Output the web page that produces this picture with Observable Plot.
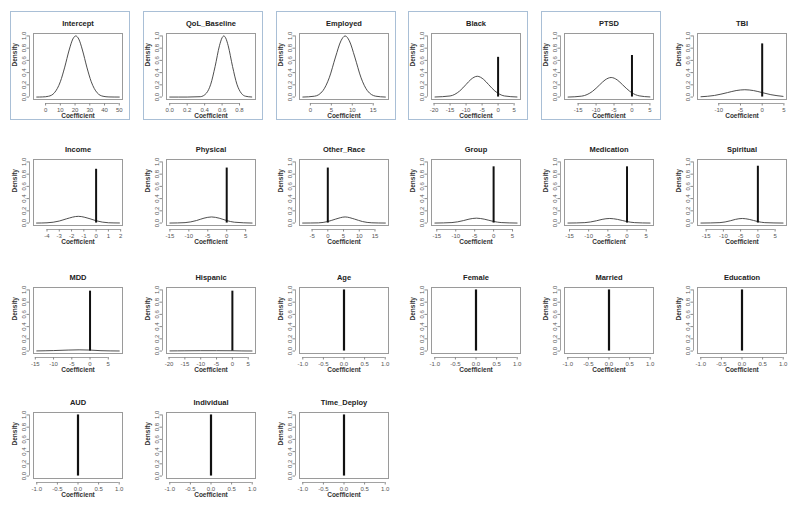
<!DOCTYPE html>
<html><head><meta charset="utf-8">
<script src="https://cdn.jsdelivr.net/npm/d3@7"></script>
<script src="https://cdn.jsdelivr.net/npm/@observablehq/plot@0.6"></script>
<style>
body{margin:0;background:#fff;font-family:"Liberation Sans",Arial,sans-serif;}
#root{position:relative;width:800px;height:510px;overflow:hidden;}
.panel{position:absolute;}
.hl{position:absolute;border:1px solid #a9bfd6;box-sizing:border-box;}
</style></head><body><div id="root"></div>
<script>
const names = ["Intercept","QoL_Baseline","Employed","Black","PTSD","TBI",
  "Income","Physical","Other_Race","Group","Medication","Spiritual",
  "MDD","Hispanic","Age","Female","Married","Education",
  "AUD","Individual","Time_Deploy"];
const highlighted = ["Intercept","QoL_Baseline","Employed","Black","PTSD"];

const unitDomain = [-1.08, 1.08];
const xDomains = [[-8.2,52.2],[-0.037,0.983],[-2.6,18.65],[-20.8,7.0],[-18.8,6.0],[-14.9,5.6],
  [-5.1,2.15],[-15.9,7.6],[-9.0,19.3],[-16.4,7.1],[-16.3,6.9],[-17.5,8.3],
  [-15.5,8.9],[-20.8,7.3],unitDomain,unitDomain,unitDomain,unitDomain,
  unitDomain,unitDomain,unitDomain];

const unitTicks = [-1,-0.5,0,0.5,1];
const unitTickLabels = ["-1.0","-0.5","0.0","0.5","1.0"];
const xTicks = [[0,10,20,30,40,50],[0,0.2,0.4,0.6,0.8],[0,5,10,15],[-20,-15,-10,-5,0,5],[-15,-10,-5,0,5],[-10,-5,0,5],
  [-4,-3,-2,-1,0,1,2],[-15,-10,-5,0,5],[-5,0,5,10,15],[-15,-10,-5,0,5],[-15,-10,-5,0,5],[-15,-10,-5,0,5],
  [-15,-10,-5,0,5],[-20,-15,-10,-5,0,5],unitTicks,unitTicks,unitTicks,unitTicks,
  unitTicks,unitTicks,unitTicks];
const xTickLabels = [["0","10","20","30","40","50"],["0.0","0.2","0.4","0.6","0.8"],["0","5","10","15"],["-20","-15","-10","-5","0","5"],["-15","-10","-5","0","5"],["-10","-5","0","5"],
  ["-4","-3","-2","-1","0","1","2"],["-15","-10","-5","0","5"],["-5","0","5","10","15"],["-15","-10","-5","0","5"],["-15","-10","-5","0","5"],["-15","-10","-5","0","5"],
  ["-15","-10","-5","0","5"],["-20","-15","-10","-5","0","5"],unitTickLabels,unitTickLabels,unitTickLabels,unitTickLabels,
  unitTickLabels,unitTickLabels,unitTickLabels];

const yTicks = [0,0.2,0.4,0.6,0.8,1];
const yTickLabels = ["0.0","0.2","0.4","0.6","0.8","1.0"];

// height of the probability spike at zero (null = none)
const spikes = [null,null,null,0.65,0.68,0.87,
  0.88,0.9,0.9,0.92,0.92,0.93,
  0.98,0.98,1,1,1,1,
  1,1,1];

// density curves
const curveX = [
  [-6,-2,2,6,10,13,16,18.5,20.5,22.5,25,28,31,35,39,43,50],
  [0,0.2,0.35,0.42,0.47,0.52,0.57,0.6,0.62,0.64,0.67,0.72,0.77,0.82,0.87,0.94],
  [-1.8,1,3,4.5,6,7.3,8.3,9.3,10.6,12.1,13.6,15.6,17.9],
  [-19.7,-15,-12,-10,-8.5,-6.5,-4.5,-3,-1,0,2,5.9],
  [-17.8,-14,-11,-9,-7.5,-5.8,-4.1,-2.6,-0.6,0,2,5],
  [-14.1,-11,-8,-6,-4,-2,0,2,4.8],
  [-4.85,-4,-3,-2.4,-1.45,-0.5,0,1,1.9],
  [-15,-11,-8,-6,-4,-2,0,2,6.7],
  [-8,-3,0,2.5,5.5,8.5,11,14,18.3],
  [-15.5,-11,-8,-6.5,-4.5,-2.5,0,2,6.2],
  [-15.4,-11,-8,-6.5,-4.5,-2.5,0,2,6],
  [-16.5,-11,-8,-6.5,-4.5,-2.5,0,2,7.3],
  [-14.6,-10,-6,-3,0,3,8],
  [-19.7,-15,-10,-5,0,3,6.2],
  null,null,null,null,null,null,null];
const curveY = [
  [0,0.002,0.013,0.07,0.25,0.49,0.77,0.95,1,0.95,0.77,0.49,0.25,0.07,0.013,0.002,0],
  [0,0,0.006,0.063,0.21,0.5,0.84,0.97,1,0.97,0.84,0.5,0.21,0.063,0.013,0.001],
  [0,0.014,0.105,0.315,0.655,0.92,1,0.92,0.655,0.315,0.105,0.014,0],
  [0.001,0.018,0.099,0.206,0.288,0.34,0.288,0.206,0.099,0.061,0.018,0.001],
  [0,0.015,0.093,0.2,0.28,0.32,0.28,0.2,0.093,0.069,0.02,0.002],
  [0.005,0.026,0.073,0.106,0.12,0.106,0.073,0.039,0.011],
  [0,0.004,0.033,0.07,0.11,0.07,0.038,0.005,0.001],
  [0,0.007,0.041,0.08,0.1,0.08,0.041,0.014,0],
  [0,0.003,0.025,0.065,0.1,0.065,0.025,0.004,0],
  [0,0.008,0.04,0.064,0.08,0.064,0.026,0.008,0],
  [0,0.007,0.037,0.06,0.075,0.06,0.024,0.007,0],
  [0,0.007,0.037,0.06,0.075,0.06,0.024,0.007,0],
  [0.002,0.008,0.016,0.02,0.016,0.006,0.001],
  [0.002,0.004,0.006,0.006,0.005,0.002,0.001],
  null,null,null,null,null,null,null];

const root = document.getElementById("root");
const colW = 132.8;
const rowTops = [0, 126, 254, 379];
const font = "'Liberation Sans', Arial, sans-serif";

names.forEach((name, i) => {
  const col = i % 6, row = Math.floor(i / 6);
  const left = col * colW, top = rowTops[row];
  if (highlighted.includes(name)) {
    const b = document.createElement("div");
    b.className = "hl";
    b.style.left = (left + 10) + "px";
    b.style.top = (top + 11) + "px";
    b.style.width = "120px";
    b.style.height = "109px";
    root.appendChild(b);
  }
  const ticks = xTicks[i], labels = xTickLabels[i];
  const curve = curveX[i] ? curveX[i].map((x, j) => ({x, y: curveY[i][j]})) : [];
  const unit = xDomains[i] === unitDomain;
  const svg = Plot.plot({
    width: 133, height: 125,
    marginLeft: 33, marginRight: 11, marginTop: 33, marginBottom: 26,
    x: {domain: xDomains[i]},
    y: {domain: [-0.04, 1.04]},
    style: {fontFamily: font, fontSize: "6px", background: "transparent", overflow: "visible", color: "#333"},
    marks: [
      Plot.frame({stroke: "#9a9a9a"}),
      Plot.line(curve, {x: "x", y: "y", curve: "monotone-x", stroke: "#3a3a3a", strokeWidth: 0.9}),
      spikes[i] != null ? Plot.ruleX([0], {y1: 0, y2: spikes[i], stroke: "#111", strokeWidth: unit ? 2.2 : 2}) : null,
      Plot.ruleX([xDomains[i][0]], {y1: 0, y2: 1, dx: -4, stroke: "#8a8a8a", strokeWidth: 0.8}),
      Plot.axisY({ticks: yTicks, tickFormat: d => yTickLabels[yTicks.indexOf(d)], label: null, tickSize: 2.5, dx: -4, tickRotate: -90, tickPadding: 1.5, stroke: "#8a8a8a", fill: "#555", fontSize: 6}),
      Plot.ruleY([-0.04], {x1: ticks[0], x2: ticks[ticks.length - 1], dy: 4, stroke: "#8a8a8a", strokeWidth: 0.8}),
      Plot.axisX({ticks: ticks, tickFormat: d => labels[ticks.indexOf(d)], label: null, tickSize: 2.5, dy: 4, tickPadding: 1.5, stroke: "#8a8a8a", fill: "#555", fontSize: 6}),
      Plot.text([name], {text: d => d, frameAnchor: "top", dy: -13, fontWeight: "bold", fontSize: 7.5, fill: "#222"}),
      Plot.text(["Density"], {text: d => d, frameAnchor: "left", rotate: -90, dx: -19, fontWeight: "bold", fontSize: 6.5, fill: "#333"}),
      Plot.text(["Coefficient"], {text: d => d, frameAnchor: "bottom", dy: 18, fontWeight: "bold", fontSize: 6.5, fill: "#333"})
    ]
  });
  svg.classList.add("panel");
  svg.style.left = left + "px";
  svg.style.top = top + "px";
  root.appendChild(svg);
});
</script>
</body></html>
